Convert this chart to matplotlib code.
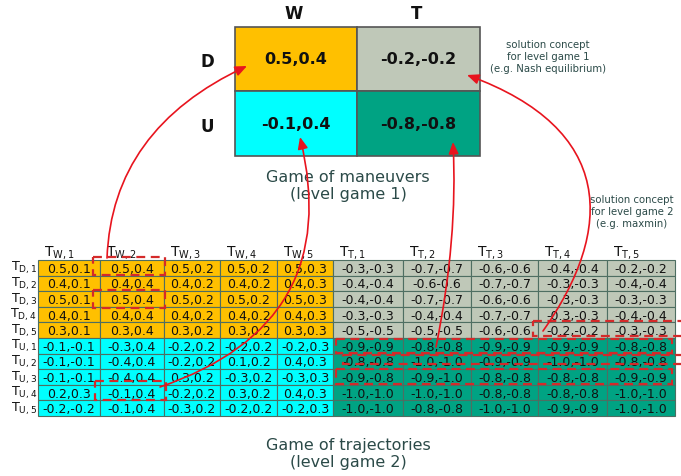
import matplotlib
matplotlib.use("Agg")
import matplotlib.pyplot as plt
from matplotlib.patches import Rectangle, FancyArrowPatch
from matplotlib.path import Path

# ---------------- data ----------------
top_cols = ["W", "T"]
top_rows = ["D", "U"]
top_values = [["0.5,0.4", "-0.2,-0.2"],
              ["-0.1,0.4", "-0.8,-0.8"]]

col_labels = ["W,1", "W,2", "W,3", "W,4", "W,5", "T,1", "T,2", "T,3", "T,4", "T,5"]
row_labels = ["D,1", "D,2", "D,3", "D,4", "D,5", "U,1", "U,2", "U,3", "U,4", "U,5"]

row_D1 = ["0.5,0.1", "0.5,0.4", "0.5,0.2", "0.5,0.2", "0.5,0.3", "-0.3,-0.3", "-0.7,-0.7", "-0.6,-0.6", "-0.4,-0.4", "-0.2,-0.2"]
row_D2 = ["0.4,0.1", "0.4,0.4", "0.4,0.2", "0.4,0.2", "0.4,0.3", "-0.4,-0.4", "-0.6-0.6", "-0.7,-0.7", "-0.3,-0.3", "-0.4,-0.4"]
row_D3 = ["0.5,0.1", "0.5,0.4", "0.5,0.2", "0.5,0.2", "0.5,0.3", "-0.4,-0.4", "-0.7,-0.7", "-0.6,-0.6", "-0.3,-0.3", "-0.3,-0.3"]
row_D4 = ["0.4,0.1", "0.4,0.4", "0.4,0.2", "0.4,0.2", "0.4,0.3", "-0.3,-0.3", "-0.4,-0.4", "-0.7,-0.7", "-0.3,-0.3", "-0.4,-0.4"]
row_D5 = ["0.3,0.1", "0.3,0.4", "0.3,0.2", "0.3,0.2", "0.3,0.3", "-0.5,-0.5", "-0.5,-0.5", "-0.6,-0.6", "-0.2,-0.2", "-0.3,-0.3"]
row_U1 = ["-0.1,-0.1", "-0.3,0.4", "-0.2,0.2", "-0.2,0.2", "-0.2,0.3", "-0.9,-0.9", "-0.8,-0.8", "-0.9,-0.9", "-0.9,-0.9", "-0.8,-0.8"]
row_U2 = ["-0.1,-0.1", "-0.4,0.4", "-0.2,0.2", "0.1,0.2", "0.4,0.3", "-0.8,-0.8", "-1.0,-1.0", "-0.9,-0.9", "-1.0,-1.0", "-0.8,-0.8"]
row_U3 = ["-0.1,-0.1", "-0.4,0.4", "0.3,0.2", "-0.3,0.2", "-0.3,0.3", "-0.9,-0.8", "-0.9,-1.0", "-0.8,-0.8", "-0.8,-0.8", "-0.9,-0.9"]
row_U4 = ["0.2,0.3", "-0.1,0.4", "-0.2,0.2", "0.3,0.2", "0.4,0.3", "-1.0,-1.0", "-1.0,-1.0", "-0.8,-0.8", "-0.8,-0.8", "-1.0,-1.0"]
row_U5 = ["-0.2,-0.2", "-0.1,0.4", "-0.3,0.2", "-0.2,0.2", "-0.2,0.3", "-1.0,-1.0", "-0.8,-0.8", "-1.0,-1.0", "-0.9,-0.9", "-1.0,-1.0"]
table_rows = [row_D1, row_D2, row_D3, row_D4, row_D5, row_U1, row_U2, row_U3, row_U4, row_U5]

# ---------------- style / layout ----------------
C_DW = "#FFC000"
C_DT = "#BFC8B8"
C_UW = "#00FFFF"
C_UT = "#00A383"
TXT = "#2B4A48"
RED = "#E8141E"
DASH = "#D42A2A"

fig = plt.figure(figsize=(6.81, 4.77), dpi=100)
ax = fig.add_axes([0, 0, 1, 1])
ax.set_xlim(0, 681)
ax.set_ylim(477, 0)
ax.axis("off")

def cell_color(r, c):
    d = r < 5
    w = c < 5
    if d and w:
        return C_DW
    if d:
        return C_DT
    if w:
        return C_UW
    return C_UT

# ---- top matrix ----
tx = [235, 357, 480]
ty = [28, 92, 157]
top_colors = [[C_DW, C_DT], [C_UW, C_UT]]
for i in range(2):
    for j in range(2):
        ax.add_patch(Rectangle((tx[j], ty[i]), tx[j + 1] - tx[j], ty[i + 1] - ty[i],
                               facecolor=top_colors[i][j], edgecolor="#555555", lw=1.2))
        ax.text((tx[j] + tx[j + 1]) / 2, (ty[i] + ty[i + 1]) / 2, top_values[i][j],
                ha="center", va="center", fontsize=11.5, fontweight="bold", color="#111111")
for j, lab in enumerate(top_cols):
    ax.text((tx[j] + tx[j + 1]) / 2 - 2, 14, lab, ha="center", va="center",
            fontsize=12, fontweight="bold", color="#111111")
for i, lab in enumerate(top_rows):
    ax.text(207, (ty[i] + ty[i + 1]) / 2 + 2, lab, ha="center", va="center",
            fontsize=12, fontweight="bold", color="#111111")

ax.text(348, 186, "Game of maneuvers\n(level game 1)", ha="center", va="center",
        fontsize=11.5, color=TXT, linespacing=1.15)
ax.text(548, 57, "solution concept\nfor level game 1\n(e.g. Nash equilibrium)", ha="center",
        va="center", fontsize=7.3, color=TXT, linespacing=1.2)
ax.text(632, 212, "solution concept\nfor level game 2\n(e.g. maxmin)", ha="center",
        va="center", fontsize=7.3, color=TXT, linespacing=1.2)

# ---- bottom table ----
bx = [38, 100, 164, 220, 277, 333, 403, 471, 538, 607, 675]
y0, rh = 261, 15.6
for r, row in enumerate(table_rows):
    for c, val in enumerate(row):
        ax.add_patch(Rectangle((bx[c], y0 + r * rh), bx[c + 1] - bx[c], rh,
                               facecolor=cell_color(r, c), edgecolor="#4E6E62", lw=0.8))
        ax.text((bx[c] + bx[c + 1]) / 2, y0 + (r + 0.5) * rh + 0.5, val,
                ha="center", va="center", fontsize=9, color="#111111")
for c, lab in enumerate(col_labels):
    ax.text(bx[c] + 6, 253, r"$\mathregular{T_{" + lab + "}}$", ha="left", va="center",
            fontsize=10, color="#111111")
for r, lab in enumerate(row_labels):
    ax.text(37, y0 + (r + 0.5) * rh - 0.5, r"$\mathregular{T_{" + lab + "}}$", ha="right",
            va="center", fontsize=9.2, color="#111111")

ax.text(348, 454, "Game of trajectories\n(level game 2)", ha="center", va="center",
        fontsize=11.5, color=TXT, linespacing=1.15)

# ---- dashed boxes ----
def dbox(x0, y0_, x1, y1):
    ax.add_patch(Rectangle((x0, y0_), x1 - x0, y1 - y0_, fill=False, edgecolor=DASH,
                           lw=1.6, ls=(0, (4, 2.5)), zorder=5))

dbox(93, 258, 165, 276)
dbox(93, 291, 165, 309)
dbox(95, 382, 166, 401)
dbox(533, 322, 690, 337)
dbox(336, 340, 672, 354)
dbox(343, 356, 690, 365)
dbox(336, 370, 672, 385)

# ---- arrows ----
def curve(pts, codes):
    p = Path(pts, codes)
    ax.add_patch(FancyArrowPatch(path=p, arrowstyle="-|>,head_length=7,head_width=3",
                                 color=RED, lw=1.2, zorder=6))

Q = [Path.MOVETO, Path.CURVE3, Path.CURVE3]
C4 = [Path.MOVETO, Path.CURVE4, Path.CURVE4, Path.CURVE4]
curve([(107, 259), (112, 130), (247, 67)], Q)
curve([(160, 388), (345, 325), (300, 138)], Q)
curve([(436, 348), (458, 240), (453, 143)], Q)
curve([(543, 332), (615, 230), (615, 130), (467, 76)], C4)

fig.savefig("out.png", dpi=100)
